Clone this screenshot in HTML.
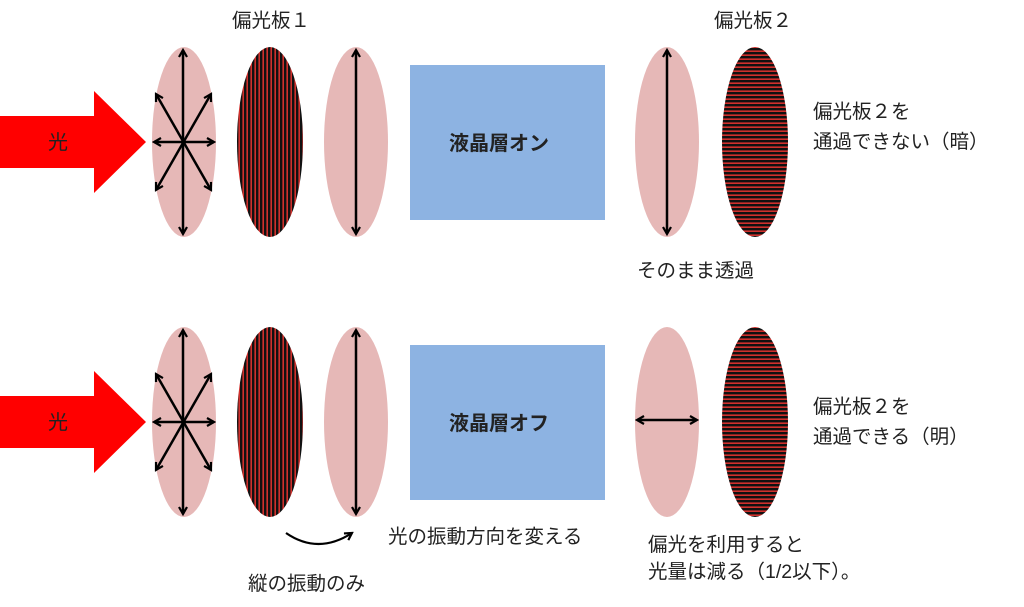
<!DOCTYPE html>
<html><head><meta charset="utf-8"><style>
body{margin:0;background:#fff;}
svg text{font-family:"Liberation Sans","Noto Sans CJK JP",sans-serif;font-size:19.5px;fill:#222;}
</style></head><body>
<svg width="1024" height="602" viewBox="0 0 1024 602" xmlns="http://www.w3.org/2000/svg">
<defs>
<pattern id="vs" width="4" height="4" patternUnits="userSpaceOnUse"><rect width="4" height="4" fill="#d0302c"/><rect width="2.4" height="4" fill="#111"/></pattern>
<pattern id="hs" width="4" height="4" patternUnits="userSpaceOnUse"><rect width="4" height="4" fill="#d0302c"/><rect width="4" height="2.4" fill="#111"/></pattern>
<marker id="ah" markerWidth="10" markerHeight="10" refX="8" refY="5" orient="auto-start-reverse" markerUnits="userSpaceOnUse"><path d="M1,1 L8,5 L1,9" fill="none" stroke="#000" stroke-width="2.2"/></marker>
<g id="row">
<polygon points="0,116 94,116 94,91 146,142 94,193 94,168 0,168" fill="#ff0000"/>
<text x="48" y="149" style="font-size:20px" fill="#000">光</text>
<ellipse cx="184" cy="142" rx="32" ry="95" fill="#e6b8b7"/>
<g stroke="#000" stroke-width="2.5" marker-start="url(#ah)" marker-end="url(#ah)">
<line x1="183" y1="50" x2="183" y2="234"/>
<line x1="154" y1="142" x2="214" y2="142"/>
<line x1="156" y1="94" x2="211" y2="190"/>
<line x1="211" y1="94" x2="156" y2="190"/>
</g>
<ellipse cx="270" cy="142" rx="33" ry="95" fill="url(#vs)"/>
<ellipse cx="356" cy="142" rx="32" ry="95" fill="#e6b8b7"/>
<line x1="356" y1="50" x2="356" y2="234" stroke="#000" stroke-width="2.5" marker-start="url(#ah)" marker-end="url(#ah)"/>
<rect x="410" y="65" width="195" height="155" fill="#8db3e2"/>
<ellipse cx="667" cy="142" rx="32" ry="95" fill="#e6b8b7"/>
<ellipse cx="755" cy="142" rx="33" ry="95" fill="url(#hs)"/>
</g>
</defs>
<use href="#row"/>
<use href="#row" y="280"/>
<text x="232" y="27">偏光板１</text>
<text x="714" y="27">偏光板２</text>
<text x="449" y="150" style="font-size:20px;font-weight:bold" fill="#000">液晶層オン</text>
<text x="449" y="430" style="font-size:20px;font-weight:bold" fill="#000">液晶層オフ</text>
<line x1="667" y1="50" x2="667" y2="234" stroke="#000" stroke-width="2.5" marker-start="url(#ah)" marker-end="url(#ah)"/>
<line x1="637" y1="420" x2="697" y2="420" stroke="#000" stroke-width="2.5" marker-start="url(#ah)" marker-end="url(#ah)"/>
<text x="813" y="118">偏光板２を</text>
<text x="813" y="148">通過できない（暗）</text>
<text x="637" y="277">そのまま透過</text>
<text x="813" y="413">偏光板２を</text>
<text x="813" y="443">通過できる（明）</text>
<path d="M286,533 Q318,555 352,533" fill="none" stroke="#000" stroke-width="2.2" marker-end="url(#ah)"/>
<text x="388" y="543">光の振動方向を変える</text>
<text x="248" y="590">縦の振動のみ</text>
<text x="648" y="551">偏光を利用すると</text>
<text x="648" y="578">光量は減る（1/2以下）。</text>
</svg>
</body></html>
